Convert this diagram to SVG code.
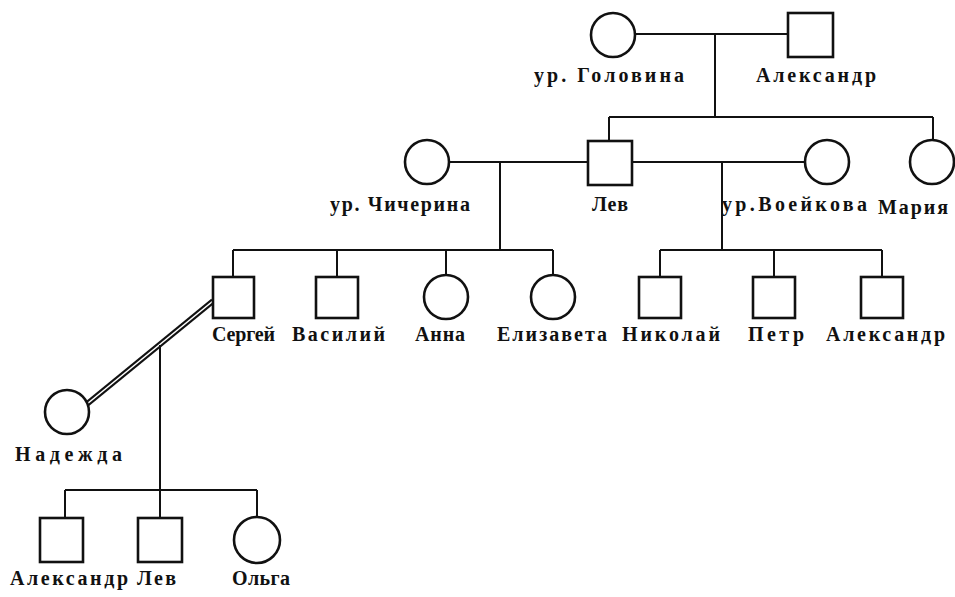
<svg xmlns="http://www.w3.org/2000/svg" width="955" height="597" viewBox="0 0 955 597">
  <style>
    .sq, .ci { fill: #fff; stroke: #111; stroke-width: 2.6; }
    .ln { fill: none; stroke: #111; stroke-width: 2; }
    text { font-family: "Liberation Serif", "DejaVu Serif", serif; font-weight: bold; font-size: 20px; fill: #111; }
  </style>
  <rect width="955" height="597" fill="#fff"/>

  <!-- connectors: marriage lines, descent lines and sibling bars -->
  <g id="connectors">
    <path class="ln" d="M635 34 H788 M715 34 V117 M609 117 H933 M609 117 V141 M933 117 V140"/>
    <path class="ln" d="M449 162 H588 M500 162 V250 M233 250 H553 M233 250 V277 M337 250 V277 M446 250 V275 M553 250 V275"/>
    <path class="ln" d="M632 162 H805 M722 162 V250 M660 250 H882 M660 250 V277 M774 250 V277 M882 250 V277"/>
    <!-- double line: Sergei and Nadezhda -->
    <line x1="213" y1="301" x2="87" y2="404" stroke="#111" stroke-width="5.5"/>
    <line x1="213" y1="301" x2="87" y2="404" stroke="#fff" stroke-width="1.6"/>
    <path class="ln" d="M160 345 V490 M65 490 H257 M65 490 V518 M160 490 V518 M257 490 V517"/>
  </g>

  <g id="golovina"><circle class="ci" cx="613" cy="35" r="22"/><text x="534" y="82" textLength="150" lengthAdjust="spacing">ур. Головина</text></g>
  <g id="aleksandr-sr"><rect class="sq" x="788" y="13" width="45" height="44"/><text x="756" y="82" textLength="120" lengthAdjust="spacing">Александр</text></g>

  <g id="chicherina"><circle class="ci" cx="427" cy="162" r="22"/><text x="330" y="211" textLength="140" lengthAdjust="spacing">ур. Чичерина</text></g>
  <g id="lev"><rect class="sq" x="588" y="141" width="44" height="44"/><text x="592" y="211" textLength="36" lengthAdjust="spacing">Лев</text></g>
  <g id="voeikova"><circle class="ci" cx="827" cy="162" r="22"/><text x="722" y="211" textLength="145" lengthAdjust="spacing">ур.Воейкова</text></g>
  <g id="maria"><circle class="ci" cx="932" cy="162" r="22"/><text x="878" y="214" textLength="70" lengthAdjust="spacing">Мария</text></g>

  <g id="sergei"><rect class="sq" x="213" y="277" width="41" height="41"/><text x="212" y="341" textLength="63" lengthAdjust="spacing">Сергей</text></g>
  <g id="vasilii"><rect class="sq" x="316" y="277" width="42" height="41"/><text x="292" y="341" textLength="93" lengthAdjust="spacing">Василий</text></g>
  <g id="anna"><circle class="ci" cx="446" cy="297" r="22"/><text x="415" y="341" textLength="50" lengthAdjust="spacing">Анна</text></g>
  <g id="elizaveta"><circle class="ci" cx="553" cy="297" r="22"/><text x="497" y="341" textLength="110" lengthAdjust="spacing">Елизавета</text></g>

  <g id="nikolai"><rect class="sq" x="639" y="277" width="42" height="41"/><text x="622" y="341" textLength="98" lengthAdjust="spacing">Николай</text></g>
  <g id="petr"><rect class="sq" x="753" y="277" width="42" height="41"/><text x="748" y="341" textLength="56" lengthAdjust="spacing">Петр</text></g>
  <g id="aleksandr-mid"><rect class="sq" x="861" y="277" width="42" height="41"/><text x="826" y="341" textLength="119" lengthAdjust="spacing">Александр</text></g>

  <g id="nadezhda"><circle class="ci" cx="67" cy="412" r="22"/><text x="15" y="461" textLength="107" lengthAdjust="spacing">Надежда</text></g>

  <g id="aleksandr-jr"><rect class="sq" x="40" y="518" width="43" height="44"/><text x="10" y="585" textLength="118" lengthAdjust="spacing">Александр</text></g>
  <g id="lev-jr"><rect class="sq" x="138" y="518" width="44" height="44"/><text x="137" y="585" textLength="39" lengthAdjust="spacing">Лев</text></g>
  <g id="olga"><circle class="ci" cx="257" cy="540" r="23"/><text x="232" y="585" textLength="58" lengthAdjust="spacing">Ольга</text></g>
</svg>
